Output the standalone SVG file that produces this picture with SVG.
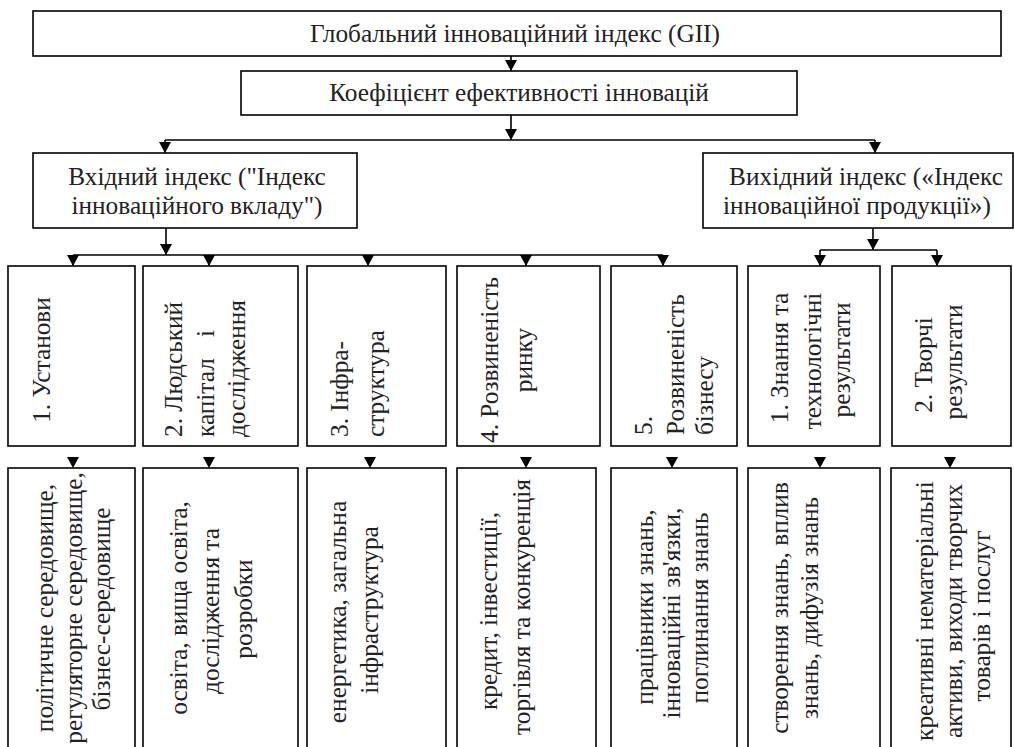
<svg xmlns="http://www.w3.org/2000/svg" width="1014" height="747" viewBox="0 0 1014 747">
<rect width="1014" height="747" fill="#fff"/>
<g id="connectors" stroke="#000" stroke-width="1.6" fill="none">
<path d="M511,56V71M511,115V140M165,140H875M165,140V153M875,140V153M166,228V255M73,255H663M73,255V266M209,255V266M368,255V266M526,255V266M663,255V266M873,228V250M820,250H937M820,250V266M937,250V266"/>
<path stroke="none" fill="#000" d="M505,60h12l-6,11zM505,129h12l-6,11zM159,142h12l-6,11zM869,142h12l-6,11zM160,244h12l-6,11zM67,255h12l-6,11zM203,255h12l-6,11zM362,255h12l-6,11zM520,255h12l-6,11zM657,255h12l-6,11zM867,239h12l-6,11zM814,255h12l-6,11zM931,255h12l-6,11zM67,457h12l-6,11zM203,457h12l-6,11zM364,457h12l-6,11zM520,457h12l-6,11zM666,457h12l-6,11zM814,457h12l-6,11zM944,457h12l-6,11z"/>
</g>
<g style="font-family:'Liberation Serif','Times New Roman',serif;font-size:25.3px;fill:#222">
<g id="gii"><rect x="33" y="11" width="968" height="45" fill="#fff" stroke="#000" stroke-width="1.6"/>
<text text-anchor="middle" x="515" y="42">Глобальний інноваційний індекс (GII)</text></g>
<g id="coef"><rect x="241" y="71" width="556" height="44" fill="#fff" stroke="#000" stroke-width="1.6"/>
<text text-anchor="middle" x="519" y="101">Коефіцієнт ефективності інновацій</text></g>
<g id="input" text-anchor="middle"><rect x="33" y="153" width="324" height="75" fill="#fff" stroke="#000" stroke-width="1.6"/>
<text x="197" y="185">Вхідний індекс ("Індекс</text>
<text x="197" y="214">інноваційного вкладу")</text></g>
<g id="output" text-anchor="middle"><rect x="703" y="153" width="310" height="75" fill="#fff" stroke="#000" stroke-width="1.6"/>
<text x="866" y="185">Вихідний індекс («Індекс</text>
<text x="857" y="214">інноваційної продукції»)</text></g>
<g id="p1" text-anchor="middle"><rect x="8" y="266" width="127" height="180" fill="#fff" stroke="#000" stroke-width="1.6"/>
<text transform="translate(50,360)rotate(-90)">1. Установи</text></g>
<g id="p2"><rect x="143" y="266" width="155" height="180" fill="#fff" stroke="#000" stroke-width="1.6"/>
<text transform="translate(182,437)rotate(-90)">2. Людський</text>
<text transform="translate(214,437)rotate(-90)">капітал</text>
<text transform="translate(214,337)rotate(-90)">і</text>
<text transform="translate(245,437)rotate(-90)">дослідження</text></g>
<g id="p3"><rect x="307" y="266" width="139" height="180" fill="#fff" stroke="#000" stroke-width="1.6"/>
<text transform="translate(348,437)rotate(-90)">3. Інфра-</text>
<text transform="translate(384,437)rotate(-90)">структура</text></g>
<g id="p4" text-anchor="middle"><rect x="457" y="266" width="143" height="180" fill="#fff" stroke="#000" stroke-width="1.6"/>
<text transform="translate(498,360)rotate(-90)">4. Розвиненість</text>
<text transform="translate(532,360)rotate(-90)">ринку</text></g>
<g id="p5"><rect x="611" y="266" width="126" height="180" fill="#fff" stroke="#000" stroke-width="1.6"/>
<text transform="translate(652,435)rotate(-90)">5.</text>
<text transform="translate(684,435)rotate(-90)">Розвиненість</text>
<text transform="translate(713,435)rotate(-90)">бізнесу</text></g>
<g id="o1" text-anchor="middle"><rect x="748" y="266" width="132" height="180" fill="#fff" stroke="#000" stroke-width="1.6"/>
<text transform="translate(788,358)rotate(-90)">1. Знання та</text>
<text transform="translate(821,361)rotate(-90)">технологічні</text>
<text transform="translate(850,360)rotate(-90)">результати</text></g>
<g id="o2" text-anchor="middle"><rect x="892" y="266" width="119" height="180" fill="#fff" stroke="#000" stroke-width="1.6"/>
<text transform="translate(932,365)rotate(-90)">2. Творчі</text>
<text transform="translate(962,362)rotate(-90)">результати</text></g>
<g id="d1" text-anchor="middle"><rect x="8" y="468" width="127" height="300" fill="#fff" stroke="#000" stroke-width="1.6"/>
<text transform="translate(53,608)rotate(-90)">політичне середовище,</text>
<text transform="translate(82,608)rotate(-90)">регуляторне середовище,</text>
<text transform="translate(110,609)rotate(-90)">бізнес-середовище</text></g>
<g id="d2" text-anchor="middle"><rect x="143" y="468" width="155" height="300" fill="#fff" stroke="#000" stroke-width="1.6"/>
<text transform="translate(187,608)rotate(-90)">освіта, вища освіта,</text>
<text transform="translate(219,611)rotate(-90)">дослідження та</text>
<text transform="translate(252,609)rotate(-90)">розробки</text></g>
<g id="d3" text-anchor="middle"><rect x="307" y="468" width="139" height="300" fill="#fff" stroke="#000" stroke-width="1.6"/>
<text transform="translate(346,612)rotate(-90)">енергетика, загальна</text>
<text transform="translate(378,610)rotate(-90)">інфраструктура</text></g>
<g id="d4" text-anchor="middle"><rect x="457" y="468" width="139" height="300" fill="#fff" stroke="#000" stroke-width="1.6"/>
<text transform="translate(497,611)rotate(-90)">кредит, інвестиції,</text>
<text transform="translate(530,607)rotate(-90)">торгівля та конкуренція</text></g>
<g id="d5" text-anchor="middle"><rect x="611" y="468" width="126" height="300" fill="#fff" stroke="#000" stroke-width="1.6"/>
<text transform="translate(653,607)rotate(-90)">працівники знань,</text>
<text transform="translate(680,613)rotate(-90)">інноваційні зв'язки,</text>
<text transform="translate(708,608)rotate(-90)">поглинання знань</text></g>
<g id="d6" text-anchor="middle"><rect x="748" y="468" width="132" height="300" fill="#fff" stroke="#000" stroke-width="1.6"/>
<text transform="translate(788,608)rotate(-90)">створення знань, вплив</text>
<text transform="translate(818,608)rotate(-90)">знань, дифузія знань</text></g>
<g id="d7" text-anchor="middle"><rect x="891" y="468" width="120" height="300" fill="#fff" stroke="#000" stroke-width="1.6"/>
<text transform="translate(933,611)rotate(-90)">креативні нематеріальні</text>
<text transform="translate(962,611)rotate(-90)">активи, виходи творчих</text>
<text transform="translate(990,616)rotate(-90)">товарів і послуг</text></g>
</g>
</svg>
